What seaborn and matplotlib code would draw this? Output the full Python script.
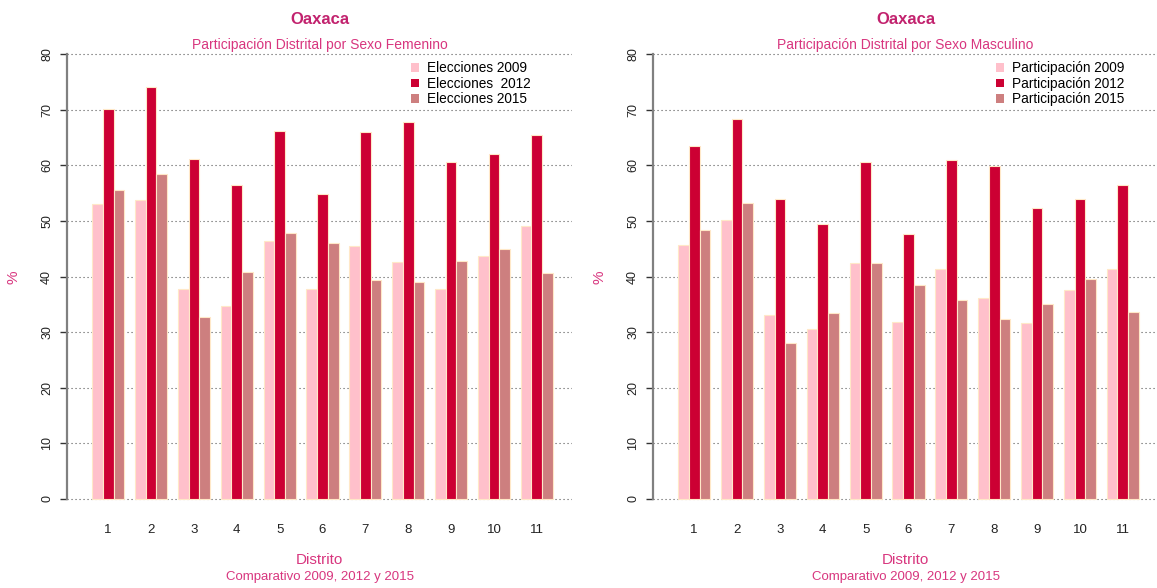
import matplotlib
matplotlib.use("Agg")
import matplotlib.pyplot as plt
from matplotlib.patches import Patch
import pandas as pd
import seaborn as sns

# Participation by district (%), Oaxaca
distritos = [str(i) for i in range(1, 12)]

fem_2009 = [53.0, 53.7, 37.8, 34.7, 46.4, 37.8, 45.4, 42.6, 37.8, 43.7, 49.1]
fem_2012 = [70.1, 74.1, 61.1, 56.4, 66.2, 54.8, 65.9, 67.8, 60.6, 62.0, 65.4]
fem_2015 = [55.5, 58.4, 32.7, 40.8, 47.8, 46.0, 39.4, 39.0, 42.8, 45.0, 40.7]

mas_2009 = [45.7, 50.2, 33.0, 30.5, 42.5, 31.9, 41.3, 36.1, 31.7, 37.5, 41.3]
mas_2012 = [63.5, 68.4, 54.0, 49.4, 60.6, 47.6, 60.9, 59.9, 52.3, 53.9, 56.5]
mas_2015 = [48.3, 53.3, 28.1, 33.5, 42.4, 38.4, 35.8, 32.3, 35.0, 39.5, 33.7]

anios = ["2009", "2012", "2015"]
leyenda_fem = ["Elecciones 2009", "Elecciones  2012", "Elecciones 2015"]
leyenda_mas = ["Participación 2009", "Participación 2012", "Participación 2015"]
yticks = [0, 10, 20, 30, 40, 50, 60, 70, 80]

colores = ["#FFC0CB", "#CC0033", "#CD7F7F"]
borde = "#FFE8C8"
col_titulo = "#C2226E"
col_sub = "#D8367F"

plt.rcParams["font.family"] = ["Liberation Sans", "DejaVu Sans"]


def tabla(s09, s12, s15):
    filas = []
    for serie, anio in zip([s09, s12, s15], anios):
        for d, v in zip(distritos, serie):
            filas.append({"Distrito": d, "anio": anio, "valor": v})
    return pd.DataFrame(filas)


W, H = 1157, 588
fig = plt.figure(figsize=(W / 100, H / 100), dpi=100)

paneles = [
    (67, tabla(fem_2009, fem_2012, fem_2015), "Participación Distrital por Sexo Femenino", leyenda_fem, 415),
    (653, tabla(mas_2009, mas_2012, mas_2015), "Participación Distrital por Sexo Masculino", leyenda_mas, 1000),
]

ax_w = 505
y_top, y_bot = 36.2, 516.8

for x0, df, subtitulo, etiquetas, x_ley in paneles:
    ax = fig.add_axes([x0 / W, (H - y_bot) / H, ax_w / W, (y_bot - y_top) / H])
    sns.barplot(data=df, x="Distrito", y="valor", hue="anio", palette=colores,
                saturation=1, width=0.75, gap=0, edgecolor=borde, linewidth=0.8,
                ax=ax, legend=False, zorder=3)
    ax.set_xlim(-0.96, 10.82)
    ax.set_ylim(-3.2, 83.2)
    ax.set_yticks(yticks)
    ax.set_yticklabels([str(t) for t in yticks], rotation=90, va="center",
                       fontsize=9, color="#222222")
    ax.tick_params(axis="y", length=5, width=1, color="#333333", pad=5)
    ax.tick_params(axis="x", length=0, pad=5, labelsize=9.5, labelcolor="#222222")
    for s in ["top", "right", "bottom"]:
        ax.spines[s].set_visible(False)
    ax.spines["left"].set_color("#808080")
    ax.spines["left"].set_linewidth(1.6)
    ax.spines["left"].set_bounds(0, 80)
    ax.set_axisbelow(True)
    ax.yaxis.grid(True, color="#555555", linestyle=(0, (1, 2.6)), linewidth=0.8)
    ax.xaxis.grid(False)
    ax.set_xlabel("")
    ax.set_ylabel("")
    ax.set_facecolor("white")

    cx = (x0 + ax_w / 2) / W
    fig.text(cx, 1 - 19 / H, "Oaxaca", ha="center", va="center",
             fontsize=12, fontweight="bold", color=col_titulo)
    fig.text(cx, 1 - 45 / H, subtitulo, ha="center", va="center",
             fontsize=10, color=col_sub)
    fig.text(cx, 1 - 560 / H, "Distrito", ha="center", va="center",
             fontsize=11, color=col_sub)
    fig.text(cx, 1 - 577 / H, "Comparativo 2009, 2012 y 2015", ha="center",
             va="center", fontsize=9.5, color=col_sub)
    fig.text((x0 - 53) / W, 1 - 277 / H, "%", ha="center", va="center",
             rotation=90, fontsize=11, color=col_sub)

    handles = [Patch(facecolor=c, edgecolor="none") for c in colores]
    ax.legend(handles, etiquetas, loc="upper left",
              bbox_to_anchor=((x_ley - 4) / W, 1 - 61 / H),
              bbox_transform=fig.transFigure, frameon=False, fontsize=9.8,
              handlelength=0.6, handleheight=0.6, handletextpad=0.6,
              labelspacing=0.12, borderpad=0, borderaxespad=0)

fig.savefig("out.png", dpi=100, facecolor="white")
